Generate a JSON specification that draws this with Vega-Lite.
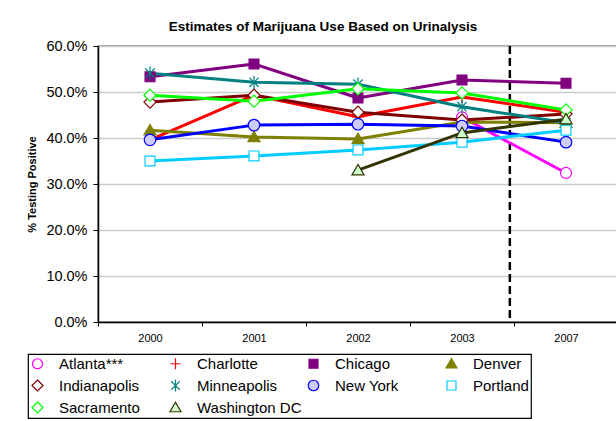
{
  "$schema": "https://vega.github.io/schema/vega-lite/v6.json",
  "width": 520,
  "height": 276,
  "autosize": "none",
  "padding": {"left": 98, "top": 46, "right": 0, "bottom": 99},
  "background": "white",
  "config": {
    "font": "Liberation Sans",
    "view": {"stroke": "#808080", "strokeWidth": 1.5},
    "legend": {
      "orient": "none", "direction": "horizontal", "legendX": -70, "legendY": 308,
      "columns": 4, "gridAlign": "all", "columnPadding": 3, "rowPadding": 5,
      "padding": 2, "strokeColor": "black", "strokeWidth": 1.2,
      "symbolSize": 100, "symbolStrokeWidth": 1.2,
      "labelFont": "Liberation Sans", "labelFontSize": 15, "labelColor": "black", "labelOffset": 14, "labelLimit": 200
    }
  },
  "title": {
    "text": "Estimates of Marijuana Use Based on Urinalysis",
    "font": "Liberation Sans",
    "fontSize": 13.5,
    "fontWeight": "bold",
    "color": "black",
    "anchor": "middle",
    "frame": "group",
    "baseline": "alphabetic",
    "offset": -6,
    "dx": -35
  },
  "datasets": {
    "rates": [
      {"city": "Atlanta***", "pos": 3, "year": "2003", "v": 0.445},
      {"city": "Atlanta***", "pos": 4, "year": "2007", "v": 0.324},
      {"city": "Charlotte", "pos": 0, "year": "2000", "v": 0.396},
      {"city": "Charlotte", "pos": 1, "year": "2001", "v": 0.493},
      {"city": "Charlotte", "pos": 2, "year": "2002", "v": 0.446},
      {"city": "Charlotte", "pos": 3, "year": "2003", "v": 0.489},
      {"city": "Charlotte", "pos": 4, "year": "2007", "v": 0.456},
      {"city": "Chicago", "pos": 0, "year": "2000", "v": 0.533},
      {"city": "Chicago", "pos": 1, "year": "2001", "v": 0.561},
      {"city": "Chicago", "pos": 2, "year": "2002", "v": 0.487},
      {"city": "Chicago", "pos": 3, "year": "2003", "v": 0.526},
      {"city": "Chicago", "pos": 4, "year": "2007", "v": 0.519},
      {"city": "Denver", "pos": 0, "year": "2000", "v": 0.417},
      {"city": "Denver", "pos": 1, "year": "2001", "v": 0.402},
      {"city": "Denver", "pos": 2, "year": "2002", "v": 0.398},
      {"city": "Denver", "pos": 3, "year": "2003", "v": 0.435},
      {"city": "Denver", "pos": 4, "year": "2007", "v": 0.433},
      {"city": "Indianapolis", "pos": 0, "year": "2000", "v": 0.478},
      {"city": "Indianapolis", "pos": 1, "year": "2001", "v": 0.493},
      {"city": "Indianapolis", "pos": 2, "year": "2002", "v": 0.456},
      {"city": "Indianapolis", "pos": 3, "year": "2003", "v": 0.439},
      {"city": "Indianapolis", "pos": 4, "year": "2007", "v": 0.452},
      {"city": "Minneapolis", "pos": 0, "year": "2000", "v": 0.541},
      {"city": "Minneapolis", "pos": 1, "year": "2001", "v": 0.521},
      {"city": "Minneapolis", "pos": 2, "year": "2002", "v": 0.517},
      {"city": "Minneapolis", "pos": 3, "year": "2003", "v": 0.468},
      {"city": "Minneapolis", "pos": 4, "year": "2007", "v": 0.433},
      {"city": "New York", "pos": 0, "year": "2000", "v": 0.396},
      {"city": "New York", "pos": 1, "year": "2001", "v": 0.428},
      {"city": "New York", "pos": 2, "year": "2002", "v": 0.430},
      {"city": "New York", "pos": 3, "year": "2003", "v": 0.426},
      {"city": "New York", "pos": 4, "year": "2007", "v": 0.391},
      {"city": "Portland", "pos": 0, "year": "2000", "v": 0.350},
      {"city": "Portland", "pos": 1, "year": "2001", "v": 0.361},
      {"city": "Portland", "pos": 2, "year": "2002", "v": 0.374},
      {"city": "Portland", "pos": 3, "year": "2003", "v": 0.391},
      {"city": "Portland", "pos": 4, "year": "2007", "v": 0.417},
      {"city": "Sacramento", "pos": 0, "year": "2000", "v": 0.493},
      {"city": "Sacramento", "pos": 1, "year": "2001", "v": 0.480},
      {"city": "Sacramento", "pos": 2, "year": "2002", "v": 0.507},
      {"city": "Sacramento", "pos": 3, "year": "2003", "v": 0.498},
      {"city": "Sacramento", "pos": 4, "year": "2007", "v": 0.461},
      {"city": "Washington DC", "pos": 2, "year": "2002", "v": 0.330},
      {"city": "Washington DC", "pos": 3, "year": "2003", "v": 0.411},
      {"city": "Washington DC", "pos": 4, "year": "2007", "v": 0.441}
    ],
    "divider": [{"pos": 3.46}]
  },
  "layer": [
    {
      "data": {"name": "divider"},
      "mark": {"type": "rule", "color": "black", "strokeWidth": 2.5, "strokeDash": [8, 4]},
      "encoding": {
        "x": {"field": "pos", "type": "quantitative"}
      }
    },
    {
      "data": {"name": "rates"},
      "mark": {"type": "line", "strokeWidth": 3, "strokeJoin": "round"},
      "encoding": {
        "x": {
          "field": "pos", "type": "quantitative",
          "scale": {"domain": [-0.5, 4.5], "nice": false, "zero": false},
          "axis": {
            "title": null,
            "values": [-0.5, 0, 0.5, 1, 1.5, 2, 2.5, 3, 3.5, 4, 4.5],
            "labelExpr": "datum.value == 0 ? '2000' : datum.value == 1 ? '2001' : datum.value == 2 ? '2002' : datum.value == 3 ? '2003' : datum.value == 4 ? '2007' : ''",
            "labelFont": "Liberation Sans",
            "labelFontSize": 11,
            "labelColor": "black",
            "labelBaseline": "top",
            "labelPadding": 6,
            "labelOverlap": false,
            "labelFlush": false,
            "labelBound": false,
            "tickSize": 4,
            "tickColor": "black",
            "tickOpacity": {"condition": {"test": "datum.value % 1 == 0", "value": 0}, "value": 1},
            "domainColor": "black",
            "domainWidth": 1.5,
            "grid": false
          }
        },
        "y": {
          "field": "v", "type": "quantitative",
          "scale": {"domain": [0, 0.6], "nice": false},
          "axis": {
            "title": "% Testing Positive",
            "titleFont": "Liberation Sans",
            "titleFontSize": 11,
            "titleFontWeight": "bold",
            "titleColor": "black",
            "titlePadding": 8,
            "values": [0, 0.1, 0.2, 0.3, 0.4, 0.5, 0.6],
            "format": ".1%",
            "labelFont": "Liberation Sans",
            "labelFontSize": 14.5,
            "labelColor": "black",
            "labelPadding": 6,
            "labelFlush": false,
            "labelBound": false,
            "tickSize": 5,
            "tickColor": "black",
            "domainColor": "black",
            "domainWidth": 1.5,
            "grid": true,
            "gridColor": "#cccccc",
            "gridWidth": 1.5
          }
        },
        "detail": {"field": "city"},
        "color": {
          "field": "city", "type": "nominal", "legend": null,
          "scale": {
            "domain": ["Washington DC", "Sacramento", "Portland", "New York", "Minneapolis", "Indianapolis", "Denver", "Chicago", "Charlotte", "Atlanta***"],
            "range": ["#333300", "#00FF00", "#00CCFF", "#0000FF", "#008080", "#800000", "#808000", "#800080", "#FF0000", "#FF00FF"]
          }
        }
      }
    },
    {
      "data": {"name": "rates"},
      "mark": {"type": "point", "filled": true, "opacity": 1, "size": 121, "strokeWidth": 1.2},
      "encoding": {
        "x": {"field": "pos", "type": "quantitative"},
        "y": {"field": "v", "type": "quantitative"},
        "stroke": {
          "field": "city", "type": "nominal",
          "scale": {
            "domain": ["Atlanta***", "Charlotte", "Chicago", "Denver", "Indianapolis", "Minneapolis", "New York", "Portland", "Sacramento", "Washington DC"],
            "range": ["#FF00FF", "#FF0000", "#800080", "#808000", "#800000", "#008080", "#0000FF", "#00CCFF", "#00FF00", "#333300"]
          },
          "legend": {
            "title": null,
            "encode": {"symbols": {"shape": {"signal": "['M-3.3,-0.2H-1.1M-3.3,0H-1.1M-3.3,0.2H-1.1M1.1,-0.2H3.3M1.1,0H3.3M1.1,0.2H3.3M-1.1,0A1.1,1.1,0,1,0,1.1,0A1.1,1.1,0,1,0,-1.1,0Z', 'M-3.3,-0.2H3.3M-3.3,0H3.3M-3.3,0.2H3.3M0,-1.2V1.2', 'M-3.3,-0.2H-1M-3.3,0H-1M-3.3,0.2H-1M1,-0.2H3.3M1,0H3.3M1,0.2H3.3M-1,-1H1V1H-1Z', 'M-3.3,-0.2H-1M-3.3,0H-1M-3.3,0.2H-1M1,-0.2H3.3M1,0H3.3M1,0.2H3.3M0,-1.1L1.2,0.9H-1.2Z', 'M-3.3,-0.2H-1.2M-3.3,0H-1.2M-3.3,0.2H-1.2M1.2,-0.2H3.3M1.2,0H3.3M1.2,0.2H3.3M0,-1.2L1.2,0L0,1.2L-1.2,0Z', 'M-3.3,-0.2H3.3M-3.3,0H3.3M-3.3,0.2H3.3M-0.95,-0.95L0.95,0.95M-0.95,0.95L0.95,-0.95M0,-1.3V1.3', 'M-3.3,-0.2H-1.1M-3.3,0H-1.1M-3.3,0.2H-1.1M1.1,-0.2H3.3M1.1,0H3.3M1.1,0.2H3.3M-1.1,0A1.1,1.1,0,1,0,1.1,0A1.1,1.1,0,1,0,-1.1,0Z', 'M-3.3,-0.2H-1M-3.3,0H-1M-3.3,0.2H-1M1,-0.2H3.3M1,0H3.3M1,0.2H3.3M-1,-1H1V1H-1Z', 'M-3.3,-0.2H-1.2M-3.3,0H-1.2M-3.3,0.2H-1.2M1.2,-0.2H3.3M1.2,0H3.3M1.2,0.2H3.3M0,-1.2L1.2,0L0,1.2L-1.2,0Z', 'M-3.3,-0.2H-1M-3.3,0H-1M-3.3,0.2H-1M1,-0.2H3.3M1,0H3.3M1,0.2H3.3M0,-1.1L1.2,0.9H-1.2Z'][indexof(['Atlanta***', 'Charlotte', 'Chicago', 'Denver', 'Indianapolis', 'Minneapolis', 'New York', 'Portland', 'Sacramento', 'Washington DC'], datum.value)]"}}}
          }
        },
        "fill": {
          "field": "city", "type": "nominal",
          "scale": {
            "domain": ["Atlanta***", "Charlotte", "Chicago", "Denver", "Indianapolis", "Minneapolis", "New York", "Portland", "Sacramento", "Washington DC"],
            "range": ["#FFFFFF", "#FF0000", "#800080", "#808000", "#FFFFFF", "#008080", "#CCCCFF", "#FFFFFF", "#FFFFFF", "#CCFFCC"]
          },
          "legend": {
            "title": null,
            "encode": {"symbols": {"shape": {"signal": "['M-3.3,-0.2H-1.1M-3.3,0H-1.1M-3.3,0.2H-1.1M1.1,-0.2H3.3M1.1,0H3.3M1.1,0.2H3.3M-1.1,0A1.1,1.1,0,1,0,1.1,0A1.1,1.1,0,1,0,-1.1,0Z', 'M-3.3,-0.2H3.3M-3.3,0H3.3M-3.3,0.2H3.3M0,-1.2V1.2', 'M-3.3,-0.2H-1M-3.3,0H-1M-3.3,0.2H-1M1,-0.2H3.3M1,0H3.3M1,0.2H3.3M-1,-1H1V1H-1Z', 'M-3.3,-0.2H-1M-3.3,0H-1M-3.3,0.2H-1M1,-0.2H3.3M1,0H3.3M1,0.2H3.3M0,-1.1L1.2,0.9H-1.2Z', 'M-3.3,-0.2H-1.2M-3.3,0H-1.2M-3.3,0.2H-1.2M1.2,-0.2H3.3M1.2,0H3.3M1.2,0.2H3.3M0,-1.2L1.2,0L0,1.2L-1.2,0Z', 'M-3.3,-0.2H3.3M-3.3,0H3.3M-3.3,0.2H3.3M-0.95,-0.95L0.95,0.95M-0.95,0.95L0.95,-0.95M0,-1.3V1.3', 'M-3.3,-0.2H-1.1M-3.3,0H-1.1M-3.3,0.2H-1.1M1.1,-0.2H3.3M1.1,0H3.3M1.1,0.2H3.3M-1.1,0A1.1,1.1,0,1,0,1.1,0A1.1,1.1,0,1,0,-1.1,0Z', 'M-3.3,-0.2H-1M-3.3,0H-1M-3.3,0.2H-1M1,-0.2H3.3M1,0H3.3M1,0.2H3.3M-1,-1H1V1H-1Z', 'M-3.3,-0.2H-1.2M-3.3,0H-1.2M-3.3,0.2H-1.2M1.2,-0.2H3.3M1.2,0H3.3M1.2,0.2H3.3M0,-1.2L1.2,0L0,1.2L-1.2,0Z', 'M-3.3,-0.2H-1M-3.3,0H-1M-3.3,0.2H-1M1,-0.2H3.3M1,0H3.3M1,0.2H3.3M0,-1.1L1.2,0.9H-1.2Z'][indexof(['Atlanta***', 'Charlotte', 'Chicago', 'Denver', 'Indianapolis', 'Minneapolis', 'New York', 'Portland', 'Sacramento', 'Washington DC'], datum.value)]"}}}
          }
        },
        "shape": {
          "field": "city", "type": "nominal",
          "scale": {
            "domain": ["Atlanta***", "Charlotte", "Chicago", "Denver", "Indianapolis", "Minneapolis", "New York", "Portland", "Sacramento", "Washington DC"],
            "range": [
              "M-1,0A1,1,0,1,0,1,0A1,1,0,1,0,-1,0Z",
              "M-1,0H1M0,-1.1V1.1",
              "M-0.9,-0.9H0.9V0.9H-0.9Z",
              "M0,-1.05L1.1,0.85H-1.1Z",
              "M0,-1.1L1.1,0L0,1.1L-1.1,0Z",
              "M-0.85,-0.85L0.85,0.85M-0.85,0.85L0.85,-0.85M0,-1.2V1.2",
              "M-1.05,0A1.05,1.05,0,1,0,1.05,0A1.05,1.05,0,1,0,-1.05,0Z",
              "M-0.9,-0.9H0.9V0.9H-0.9Z",
              "M0,-1.1L1.1,0L0,1.1L-1.1,0Z",
              "M0,-1.05L1.1,0.85H-1.1Z"
            ]
          },
          "legend": {
            "title": null,
            "encode": {"symbols": {"shape": {"signal": "['M-3.3,-0.2H-1.1M-3.3,0H-1.1M-3.3,0.2H-1.1M1.1,-0.2H3.3M1.1,0H3.3M1.1,0.2H3.3M-1.1,0A1.1,1.1,0,1,0,1.1,0A1.1,1.1,0,1,0,-1.1,0Z', 'M-3.3,-0.2H3.3M-3.3,0H3.3M-3.3,0.2H3.3M0,-1.2V1.2', 'M-3.3,-0.2H-1M-3.3,0H-1M-3.3,0.2H-1M1,-0.2H3.3M1,0H3.3M1,0.2H3.3M-1,-1H1V1H-1Z', 'M-3.3,-0.2H-1M-3.3,0H-1M-3.3,0.2H-1M1,-0.2H3.3M1,0H3.3M1,0.2H3.3M0,-1.1L1.2,0.9H-1.2Z', 'M-3.3,-0.2H-1.2M-3.3,0H-1.2M-3.3,0.2H-1.2M1.2,-0.2H3.3M1.2,0H3.3M1.2,0.2H3.3M0,-1.2L1.2,0L0,1.2L-1.2,0Z', 'M-3.3,-0.2H3.3M-3.3,0H3.3M-3.3,0.2H3.3M-0.95,-0.95L0.95,0.95M-0.95,0.95L0.95,-0.95M0,-1.3V1.3', 'M-3.3,-0.2H-1.1M-3.3,0H-1.1M-3.3,0.2H-1.1M1.1,-0.2H3.3M1.1,0H3.3M1.1,0.2H3.3M-1.1,0A1.1,1.1,0,1,0,1.1,0A1.1,1.1,0,1,0,-1.1,0Z', 'M-3.3,-0.2H-1M-3.3,0H-1M-3.3,0.2H-1M1,-0.2H3.3M1,0H3.3M1,0.2H3.3M-1,-1H1V1H-1Z', 'M-3.3,-0.2H-1.2M-3.3,0H-1.2M-3.3,0.2H-1.2M1.2,-0.2H3.3M1.2,0H3.3M1.2,0.2H3.3M0,-1.2L1.2,0L0,1.2L-1.2,0Z', 'M-3.3,-0.2H-1M-3.3,0H-1M-3.3,0.2H-1M1,-0.2H3.3M1,0H3.3M1,0.2H3.3M0,-1.1L1.2,0.9H-1.2Z'][indexof(['Atlanta***', 'Charlotte', 'Chicago', 'Denver', 'Indianapolis', 'Minneapolis', 'New York', 'Portland', 'Sacramento', 'Washington DC'], datum.value)]"}}}
          }
        }
      }
    }
  ]
}
